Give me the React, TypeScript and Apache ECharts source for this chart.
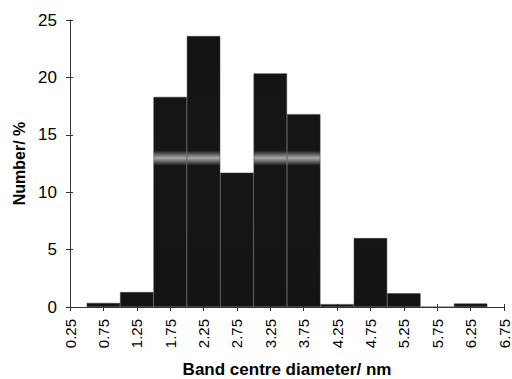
import React, { useEffect, useRef } from "react";
import * as echarts from "echarts";

const categories = ["0.25", "0.75", "1.25", "1.75", "2.25", "2.75", "3.25", "3.75", "4.25", "4.75", "5.25", "5.75", "6.25", "6.75"];
const numberPercent = [null, 0.35, 1.3, 18.3, 23.6, 11.7, 20.35, 16.8, 0.25, 6.0, 1.2, 0, 0.3, null];
const yMin = 0;
const yMax = 25;
const yStep = 5;

const FONT = "'Liberation Sans', Arial, sans-serif";

export default function App() {
  const ref = useRef<HTMLDivElement>(null);
  useEffect(() => {
    document.body.style.margin = "0";
    if (!ref.current) return;
    const chart = echarts.init(ref.current, null, { renderer: "svg" });
    const fill = new echarts.graphic.LinearGradient(
      0, 0, 0, 379,
      [
        { offset: 0, color: "#121212" },
        { offset: 0.397, color: "#161616" },
        { offset: 0.417, color: "#a8a8a8" },
        { offset: 0.437, color: "#161616" },
        { offset: 1, color: "#121212" },
      ],
      true
    );
    chart.setOption({
      animation: false,
      backgroundColor: "#fff",
      textStyle: { fontFamily: FONT },
      grid: { left: 70, right: 8, top: 20, bottom: 72, containLabel: false, outerBoundsMode: "none" },
      xAxis: [
        {
          type: "category",
          data: categories,
          boundaryGap: false,
          name: "Band centre diameter/ nm",
          nameLocation: "middle",
          nameGap: 54,
          nameTextStyle: { fontSize: 17, fontWeight: "bold", color: "#000", fontFamily: FONT, verticalAlign: "top" },
          axisLine: { lineStyle: { color: "#333", width: 1 } },
          axisTick: { show: true, length: 4, interval: 0, lineStyle: { color: "#333" } },
          axisLabel: { rotate: 90, fontSize: 15, color: "#000", fontFamily: FONT, margin: 12, interval: 0 },
          splitLine: { show: false },
        },
        {
          type: "category",
          data: categories,
          boundaryGap: false,
          position: "bottom",
          axisLine: { show: false },
          axisTick: { show: true, inside: true, length: 3, interval: 0, lineStyle: { color: "#333" } },
          axisLabel: { show: false },
          splitLine: { show: false },
        },
      ],
      yAxis: [
        {
          type: "value",
          min: yMin,
          max: yMax,
          interval: yStep,
          name: "Number/ %",
          nameLocation: "middle",
          nameGap: 42,
          nameTextStyle: { fontSize: 16, fontWeight: "bold", color: "#000", fontFamily: FONT },
          axisLine: { show: true, lineStyle: { color: "#333", width: 1 } },
          axisTick: { show: true, length: 4, lineStyle: { color: "#333" } },
          axisLabel: { fontSize: 17, color: "#000", fontFamily: FONT, margin: 13 },
          splitLine: { show: false },
        },
        {
          type: "value",
          min: yMin,
          max: yMax,
          interval: yStep,
          position: "left",
          axisLine: { show: false },
          axisTick: { show: true, inside: true, length: 3, lineStyle: { color: "#333" } },
          axisLabel: { show: false },
          splitLine: { show: false },
        },
      ],
      series: [
        {
          type: "bar",
          data: numberPercent,
          barWidth: "100%",
          barGap: "0%",
          itemStyle: { color: fill, borderColor: "#3a3a3a", borderWidth: 0.5 },
        },
      ],
    });
    return () => chart.dispose();
  }, []);
  return <div ref={ref} style={{ width: 512, height: 379 }} />;
}
